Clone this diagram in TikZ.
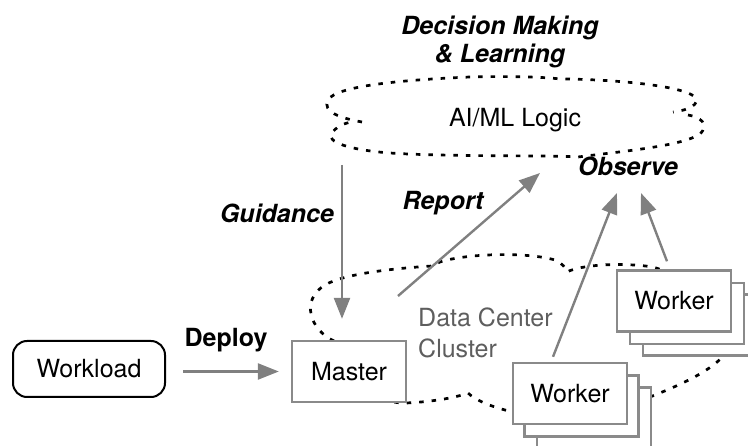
\documentclass[tikz,border=0pt]{standalone}
\usepackage{fontspec}
\setmainfont{TeX Gyre Heros}
\usetikzlibrary{arrows.meta}
\definecolor{arrowgray}{HTML}{808080}
\definecolor{boxgray}{HTML}{8A8A8A}
\definecolor{labelgray}{HTML}{5E5E5E}

\begin{document}
\begin{tikzpicture}[x=1pt,y=-1pt,
  every node/.style={font=\fontsize{25}{30}\selectfont},
  flow/.style={draw=arrowgray, line width=2.4pt, -{Triangle[length=21pt,width=16pt]}},
  cloudline/.style={line width=2.7pt, dash pattern=on 4.5pt off 8pt},
  box/.style={draw=boxgray, line width=2.4pt, fill=white, minimum width=114pt,
    minimum height=61pt, inner sep=0pt},
  tag/.style={font=\fontsize{25}{30}\selectfont\bfseries\itshape, anchor=base, inner sep=0pt},
  plain/.style={anchor=base, inner sep=0pt},
]
\useasboundingbox (0,0) rectangle (748,446);

% AI/ML cloud: upper lobes, then lower lobes
\draw[cloudline] (362,122)
  .. controls (340,118) and (322,112) .. (328,100)
  .. controls (336,86) and (400,80) .. (470,77)
  .. controls (510,76) and (545,77) .. (560,79)
  .. controls (600,79) and (680,84) .. (695,97)
  .. controls (700,104) and (690,110) .. (673,112);
\draw[cloudline] (688,115)
  .. controls (700,117) and (710,124) .. (700,134)
  .. controls (682,146) and (625,151) .. (578,157)
  .. controls (550,155) and (450,157) .. (390,153)
  .. controls (350,150) and (325,142) .. (332,133)
  .. controls (336,127) and (344,123) .. (352,122);

% data center cloud
\draw[cloudline] (334,341)
  .. controls (310,330) and (300,300) .. (325,285)
  .. controls (345,273) and (400,268) .. (432,266)
  .. controls (445,255) and (520,250) .. (555,260)
  .. controls (562,263) and (566,268) .. (567,272)
  .. controls (580,265) and (620,262) .. (653,267)
  .. controls (710,285) and (742,310) .. (728,350)
  .. controls (715,370) and (680,385) .. (650,397)
  .. controls (600,415) and (530,415) .. (505,410)
  .. controls (490,406) and (475,400) .. (468,393)
  .. controls (455,398) and (430,402) .. (406,403)
  .. controls (370,404) and (345,370) .. (334,341);

% boxes
\node[draw=black, line width=2pt, rounded corners=14pt, minimum width=152pt,
  minimum height=56pt, inner sep=0pt] (workload) at (89,369) {Workload};
\node[box] (master) at (349,371.5) {Master};

\node[box] (wA3) at (700,325) {};
\node[box] (wA2) at (687,313.5) {};
\node[box] (wA) at (674,301) {Worker};

\node[box] (wB3) at (594,418) {};
\node[box] (wB2) at (581.5,406) {};
\node[box] (wB) at (570,393.5) {Worker};

% connectors
\coordinate (guideTop) at (342,165);
\coordinate (reportFrom) at (398,296);
\coordinate (reportTip) at (540,173);
\coordinate (obsLeftTip) at (617,193);
\coordinate (obsRightTip) at (641,193);

\draw[flow] (workload.east |- master.west) -- (master.west)
  [shorten <=17pt, shorten >=12pt];
\draw[flow, shorten >=21pt] (guideTop) -- (guideTop |- master.north);
\draw[flow] (reportFrom) -- (reportTip);
\draw[flow] ([xshift=-17pt,yshift=5pt]wB.north) -- (obsLeftTip);
\draw[flow] ([xshift=-7pt,yshift=8pt]wA.north) -- (obsRightTip);

% labels
\node[tag] (dm1) at (500,35) {Decision Making};
\node[tag] (dm2) at (500,63) {\& Learning};
\node[plain] (logic) at (515,127) {AI/ML Logic};
\node[tag] (observe) at (628,176) {Observe};
\node[tag] (report) at (443,210) {Report};
\node[tag] (guidance) at (277,223) {Guidance};
\node[plain, font=\fontsize{25}{30}\selectfont\bfseries] (deploy) at (226,347) {Deploy};
\node[plain, anchor=base west, text=labelgray] (dc1) at (418,327) {Data Center};
\node[plain, anchor=base west, text=labelgray] (dc2) at (418,358) {Cluster};
\end{tikzpicture}
\end{document}
